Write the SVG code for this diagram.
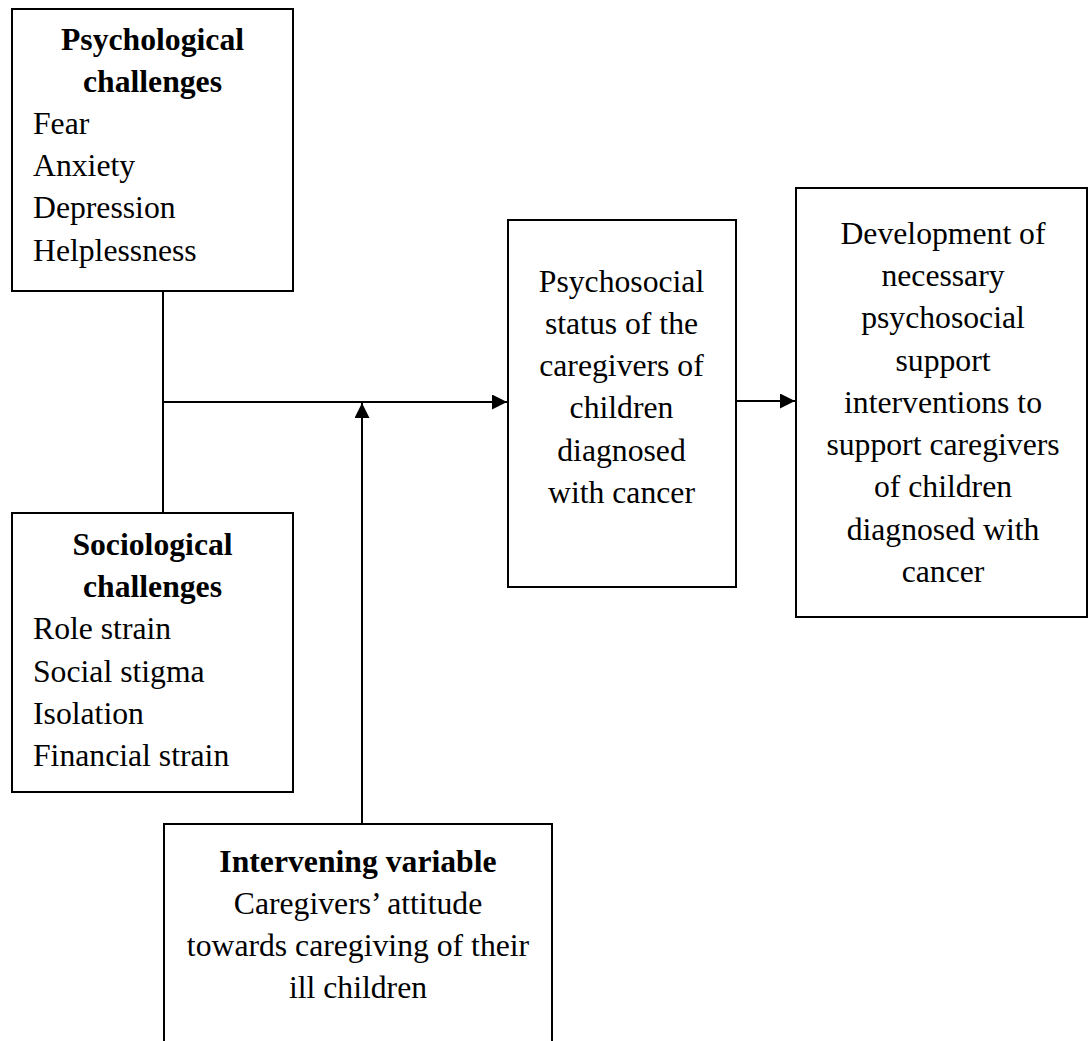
<svg xmlns="http://www.w3.org/2000/svg" width="1088" height="1041" viewBox="0 0 1088 1041">
  <style>
    .box { fill: #ffffff; stroke: #000000; stroke-width: 2; }
    .conn { fill: none; stroke: #000000; stroke-width: 2; }
    text { font-family: "Liberation Serif", "Times New Roman", serif; font-size: 31.7px; fill: #000000; }
    .b { font-weight: bold; }
    .c { text-anchor: middle; }
  </style>
  <defs>
    <marker id="arrow" markerUnits="userSpaceOnUse" markerWidth="17" markerHeight="16" refX="15" refY="7.5" orient="auto">
      <path d="M0,0 L15,7.5 L0,15 z" fill="#000000"/>
    </marker>
  </defs>

  <rect width="1088" height="1041" fill="#ffffff"/>

  <g id="connectors">
    <line class="conn" x1="163" y1="291" x2="163" y2="513"/>
    <line class="conn" x1="163" y1="402" x2="507" y2="402" marker-end="url(#arrow)"/>
    <line class="conn" x1="362" y1="824" x2="362" y2="403" marker-end="url(#arrow)"/>
    <line class="conn" x1="736" y1="401" x2="795" y2="401" marker-end="url(#arrow)"/>
  </g>

  <g id="psychological">
    <rect class="box" x="12" y="9" width="281" height="282"/>
    <text class="b c" x="152.5" y="50">Psychological</text>
    <text class="b c" x="152.5" y="92">challenges</text>
    <text x="33" y="134">Fear</text>
    <text x="33" y="176">Anxiety</text>
    <text x="33" y="218">Depression</text>
    <text x="33" y="261">Helplessness</text>
  </g>

  <g id="sociological">
    <rect class="box" x="12" y="513" width="281" height="279"/>
    <text class="b c" x="152.5" y="555">Sociological</text>
    <text class="b c" x="152.5" y="597">challenges</text>
    <text x="33" y="639">Role strain</text>
    <text x="33" y="682">Social stigma</text>
    <text x="33" y="724">Isolation</text>
    <text x="33" y="766">Financial strain</text>
  </g>

  <g id="psychosocial-status">
    <rect class="box" x="508" y="220" width="228" height="367"/>
    <text class="c" x="621.5" y="292">Psychosocial</text>
    <text class="c" x="621.5" y="334">status of the</text>
    <text class="c" x="621.5" y="376">caregivers of</text>
    <text class="c" x="621.5" y="418">children</text>
    <text class="c" x="621.5" y="461">diagnosed</text>
    <text class="c" x="621.5" y="503">with cancer</text>
  </g>

  <g id="development">
    <rect class="box" x="796" y="188" width="291" height="429"/>
    <text class="c" x="943" y="244">Development of</text>
    <text class="c" x="943" y="286">necessary</text>
    <text class="c" x="943" y="328">psychosocial</text>
    <text class="c" x="943" y="371">support</text>
    <text class="c" x="943" y="413">interventions to</text>
    <text class="c" x="943" y="455">support caregivers</text>
    <text class="c" x="943" y="497">of children</text>
    <text class="c" x="943" y="540">diagnosed with</text>
    <text class="c" x="943" y="582">cancer</text>
  </g>

  <g id="intervening">
    <path class="box" d="M164,1042 V824 H552 V1042"/>
    <text class="b c" x="358" y="872">Intervening variable</text>
    <text class="c" x="358" y="914">Caregivers’ attitude</text>
    <text class="c" x="358" y="956">towards caregiving of their</text>
    <text class="c" x="358" y="998">ill children</text>
  </g>
</svg>
